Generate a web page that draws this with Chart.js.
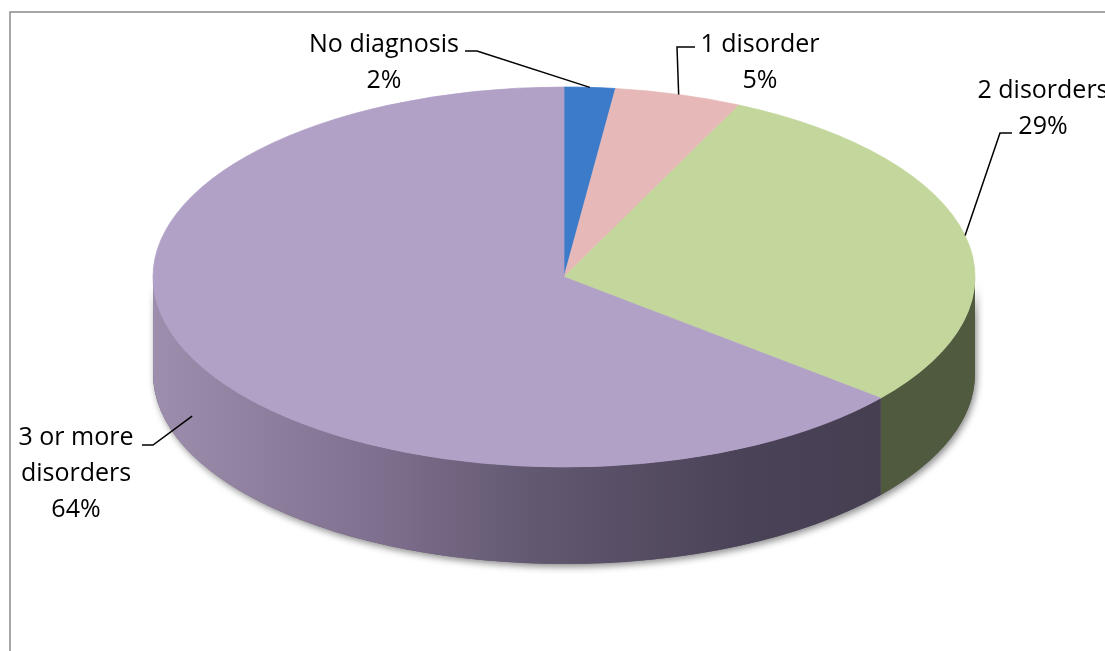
<!DOCTYPE html>
<html>
<head>
<meta charset="utf-8">
<script src="https://cdn.jsdelivr.net/npm/chart.js@4.4.1/dist/chart.umd.min.js"></script>
<style>
  html, body { margin: 0; padding: 0; background: #fff; }
  #wrap { width: 1105px; height: 651px; position: relative; }
</style>
</head>
<body>
<div id="wrap"><canvas id="diagChart"></canvas></div>
<script>
const categories = ['No diagnosis', '1 disorder', '2 disorders', '3 or more\ndisorders'];
const shares = [2, 5, 29, 64];
const topColors = ['#3b7bca', '#e6b9b8', '#c3d69b', '#b1a1c7'];
// side wall colours, left to right across the pie
const sideColors = [
  [[0, '#2c5d99']],
  [[0, '#a88988']],
  [[0, '#4f5a3e']],
  [[0, '#9d8eae'], [0.3, '#7e6f8e'], [0.5, '#625870'], [0.78, '#4a4257'], [1, '#453d4f']]
];

// flattened pie: screen centre y, vertical squash and wall height
const pieRadius = 411;
const pieCenterY = 277;
const tilt = 190 / 411;
const depth = 97;

// label placement: centre x, first baseline, leader tick [x1, y, x2]
const labelSpots = [
  { x: 384, y: 52, tick: [465, 51, 477] },
  { x: 760, y: 52, tick: [695, 47, 677] },
  { x: 1043, y: 98, tick: [1012, 133, 1000] },
  { x: 76, y: 445, tick: [142, 445, 153] }
];
const lineGap = 36;

function visibleRanges(a, b) {
  const out = [];
  [[0, Math.PI], [2 * Math.PI, 3 * Math.PI]].forEach(([lo, hi]) => {
    const s = Math.max(a, lo), e = Math.min(b, hi);
    if (e > s) out.push([s, e]);
  });
  return out;
}

function wallPath(ctx, cx, rx, ry, s, e) {
  ctx.beginPath();
  ctx.ellipse(cx, pieCenterY, rx, ry, 0, s, e, false);
  ctx.ellipse(cx, pieCenterY + depth, rx, ry, 0, e, s, true);
  ctx.closePath();
}

const pie3d = {
  id: 'pie3d',
  beforeDraw(chart) {
    const ctx = chart.ctx;
    ctx.save();
    ctx.strokeStyle = '#8a8a8a';
    ctx.lineWidth = 1.5;
    ctx.strokeRect(10, 12, 1200, 800);
    ctx.restore();
  },
  beforeDatasetsDraw(chart) {
    const ctx = chart.ctx;
    const arcs = chart.getDatasetMeta(0).data;
    const first = arcs[0].getProps(['x', 'y', 'outerRadius'], true);
    const cx = first.x, rx = first.outerRadius, ry = rx * tilt;

    // shadow under the whole front wall
    ctx.save();
    ctx.shadowColor = 'rgba(0,0,0,0.45)';
    ctx.shadowBlur = 7;
    ctx.shadowOffsetX = 2;
    ctx.shadowOffsetY = 3;
    ctx.fillStyle = '#6a6070';
    wallPath(ctx, cx, rx, ry, 0, Math.PI);
    ctx.fill();
    ctx.restore();

    arcs.forEach((arc, i) => {
      const { startAngle, endAngle } = arc.getProps(['startAngle', 'endAngle'], true);
      visibleRanges(startAngle, endAngle).forEach(([s, e]) => {
        const grad = ctx.createLinearGradient(cx - rx, 0, cx + rx * 0.86, 0);
        sideColors[i].forEach(([o, c]) => grad.addColorStop(o, c));
        ctx.fillStyle = sideColors[i].length > 1 ? grad : sideColors[i][0][1];
        wallPath(ctx, cx, rx, ry, s, e);
        ctx.fill();
      });
    });

    // top faces: squash the library's round arcs into an ellipse
    ctx.save();
    ctx.translate(0, pieCenterY);
    ctx.scale(1, tilt);
    ctx.translate(0, -first.y);
  },
  afterDatasetsDraw(chart) {
    chart.ctx.restore();
  },
  afterDraw(chart) {
    const ctx = chart.ctx;
    const arcs = chart.getDatasetMeta(0).data;
    const total = shares.reduce((a, b) => a + b, 0);
    ctx.save();
    ctx.font = '25px "Open Sans"';
    ctx.fillStyle = '#000';
    ctx.strokeStyle = '#000';
    ctx.lineWidth = 1.5;
    ctx.textAlign = 'center';
    ctx.textBaseline = 'alphabetic';
    arcs.forEach((arc, i) => {
      const { x, startAngle, endAngle, outerRadius } =
        arc.getProps(['x', 'startAngle', 'endAngle', 'outerRadius'], true);
      const mid = (startAngle + endAngle) / 2;
      const px = x + outerRadius * Math.cos(mid);
      let py = pieCenterY + outerRadius * tilt * Math.sin(mid);
      if (Math.sin(mid) > 0) py += depth * 0.6;

      const spot = labelSpots[i];
      const lines = categories[i].split('\n');
      lines.push(Math.round(shares[i] / total * 100) + '%');
      lines.forEach((t, k) => ctx.fillText(t, spot.x, spot.y + k * lineGap));

      ctx.beginPath();
      ctx.moveTo(spot.tick[0], spot.tick[1]);
      ctx.lineTo(spot.tick[2], spot.tick[1]);
      ctx.lineTo(px, py);
      ctx.stroke();
    });
    ctx.restore();
  }
};

new Chart(document.getElementById('diagChart'), {
  type: 'pie',
  data: {
    labels: categories,
    datasets: [{
      data: shares,
      backgroundColor: topColors,
      borderColor: topColors,
      borderWidth: 1,
      radius: pieRadius,
      clip: false
    }]
  },
  options: {
    responsive: true,
    maintainAspectRatio: false,
    animation: false,
    events: [],
    layout: { padding: { left: 23 } },
    plugins: {
      legend: { display: false },
      tooltip: { enabled: false }
    }
  },
  plugins: [pie3d]
});
</script>
</body>
</html>
